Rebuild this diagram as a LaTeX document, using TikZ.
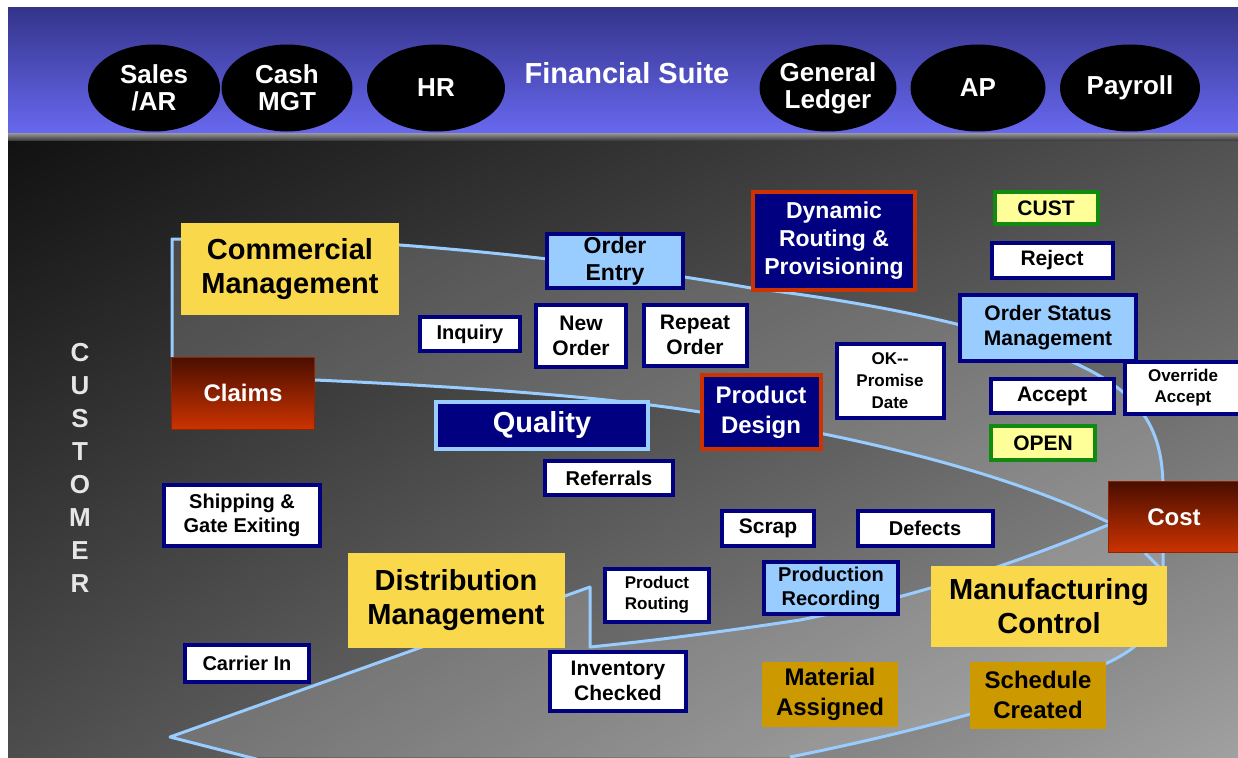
\documentclass[tikz,border=0pt]{standalone}
\usepackage{fontspec}
\setmainfont{Liberation Sans}
\usetikzlibrary{shapes.geometric,shadings}
\definecolor{navyb}{HTML}{000080}
\definecolor{skyb}{HTML}{99CCFF}
\definecolor{goldy}{HTML}{F9D84C}
\definecolor{ochre}{HTML}{CC9900}
\definecolor{paley}{HTML}{FFFF99}
\definecolor{greenb}{HTML}{108A10}
\definecolor{rust}{HTML}{CC3300}
\definecolor{rustdark}{HTML}{4A0E00}
\definecolor{bantop}{HTML}{34348A}
\definecolor{banbot}{HTML}{6868F0}
\definecolor{letterc}{HTML}{E6E6E6}
\newcommand\sz[2]{\fontsize{#1}{#2}\selectfont\bfseries}
\tikzset{
  box/.style={inner sep=0pt, align=center, line width=4pt, text=black},
  wbox/.style={box, fill=white, draw=navyb},
  bbox/.style={box, fill=skyb, draw=navyb},
  nbox/.style={box, fill=navyb, draw=rust, text=white},
  ybox/.style={box, fill=goldy},
  obox/.style={box, fill=ochre},
  tagbox/.style={box, fill=paley, draw=greenb},
  rbox/.style={box, top color=rustdark, bottom color=rust, draw=rust!70!black, line width=1pt, text=white},
  oval/.style={ellipse, fill=black, text=white, inner sep=0pt, align=center, font=\sz{26}{27}},
  ribbon/.style={skyb, line width=3pt, line join=round},
}
\begin{document}
\begin{tikzpicture}[x=1pt,y=-1pt]
\useasboundingbox (0,0) rectangle (1238,757);
\fill[white] (0,0) rectangle (1238,757);
% banner and backdrop
\shade[top color=bantop, bottom color=banbot] (8,8) rectangle (1238,133);
\shade[top color=black!40, bottom color=black!80] (8,133) rectangle (1238,141);
\shade[shading=bilinear interpolation, upper left=black!93, upper right=black!68, lower left=black!70, lower right=black!37] (8,141) rectangle (1238,757);
% the ribbon
\begin{scope}
\clip (8,141) rectangle (1238,757);
\fill[white, opacity=0.17] (172,357) -- (172,239) -- (400,245)
   .. controls (520,254) and (650,270) .. (751,288)
   .. controls (850,300) and (1000,325) .. (1085,368)
   .. controls (1150,400) and (1163,440) .. (1163,490) -- (1163,590)
   .. controls (1163,625) and (1140,648) .. (1107,663)
   .. controls (1040,700) and (900,735) .. (790,757)
   -- (248,757) -- (170,737) -- (590,587) -- (590,647)
   .. controls (640,642) and (700,635) .. (800,620)
   .. controls (900,600) and (1000,570) .. (1108,525) -- (1108,522)
   .. controls (1000,470) and (850,435) .. (700,412)
   .. controls (600,396) and (450,386) .. (315,380) -- (315,357) -- cycle;
\draw[ribbon] (172,357) -- (172,239) -- (400,245)
   .. controls (520,254) and (650,270) .. (751,288)
   .. controls (850,300) and (1000,325) .. (1085,368)
   .. controls (1150,400) and (1163,440) .. (1163,490) -- (1163,590)
   .. controls (1163,625) and (1140,648) .. (1107,663)
   .. controls (1040,700) and (900,735) .. (790,757);
\draw[ribbon] (315,380) .. controls (450,386) and (600,396) .. (700,412)
   .. controls (850,435) and (1000,470) .. (1108,522);
\draw[ribbon] (1108,525) .. controls (1000,570) and (900,600) .. (800,620)
   .. controls (700,635) and (640,642) .. (590,647) -- (590,587) -- (170,737) -- (260,760);
\draw[ribbon] (1145,553) -- (1160,568);
\end{scope}
% financial suite
\node[oval, minimum width=132, minimum height=87] (salesar) at (154,88) {Sales\\/AR};
\node[oval, minimum width=131, minimum height=87] (cashmgt) at (287,88) {Cash\\MGT};
\node[oval, minimum width=138, minimum height=87] (hr) at (436,88) {HR};
\node[text=white, font=\sz{29}{30}] (finsuite) at (627,73) {Financial Suite};
\node[oval, minimum width=133, minimum height=87] (genledger) at (828,88) {General\\Ledger};
\node[oval, minimum width=135, minimum height=87] (ap) at (978,88) {AP};
\node[oval, minimum width=140, minimum height=87] (payroll) at (1130,88) {Payroll};
\foreach \ch [count=\i from 0] in {C,U,S,T,O,M,E,R}
{
\node[text=letterc, font=\sz{26}{26}] (letter\i) at (80,{353+33*\i}) {\ch};
}
% boxes
\node[ybox, minimum width=218, minimum height=92, font=\sz{29}{34}] (comm) at (290,269) {Commercial\\Management};
\node[bbox, minimum width=136, minimum height=54, font=\sz{23}{27}] (orderentry) at (615,261) {Order\\Entry};
\node[nbox, minimum width=162, minimum height=98, font=\sz{23}{28}] (dynrouting) at (834,241) {Dynamic\\Routing \&\\Provisioning};
\node[tagbox, minimum width=103, minimum height=32, font=\sz{21}{24}] (custtag) at (1046,208) {CUST};
\node[wbox, minimum width=121, minimum height=35, font=\sz{21}{24}] (reject) at (1052,260) {Reject};
\node[bbox, minimum width=176, minimum height=66, font=\sz{21}{25}] (orderstatus) at (1048,328) {Order Status\\Management};
\node[wbox, minimum width=116, minimum height=52, font=\sz{17}{21}] (override) at (1183,388) {Override\\Accept};
\node[wbox, minimum width=123, minimum height=34, font=\sz{21}{24}] (accept) at (1052,396) {Accept};
\node[tagbox, minimum width=104, minimum height=34, font=\sz{21}{24}] (opentag) at (1043,443) {OPEN};
\node[wbox, minimum width=100, minimum height=34, font=\sz{20}{24}] (inquiry) at (470,334) {Inquiry};
\node[wbox, minimum width=90, minimum height=62, font=\sz{21}{25}] (neworder) at (581,336) {New\\Order};
\node[wbox, minimum width=103, minimum height=61, font=\sz{21}{25}] (repeatorder) at (695,335) {Repeat\\Order};
\node[wbox, minimum width=107, minimum height=74, font=\sz{17}{22}] (promise) at (890,381) {OK-{}-\\Promise\\Date};
\node[nbox, minimum width=119, minimum height=74, font=\sz{24}{30}] (proddesign) at (761,412) {Product\\Design};
\node[rbox, minimum width=143, minimum height=72, font=\sz{24}{28}] (claims) at (243,393) {Claims};
\node[nbox, draw=skyb, minimum width=212, minimum height=47, font=\sz{29}{34}] (quality) at (542,425) {Quality};
\node[wbox, minimum width=128, minimum height=34, font=\sz{20}{24}] (referrals) at (609,478) {Referrals};
\node[wbox, minimum width=156, minimum height=61, font=\sz{20}{24}] (shipping) at (242,515) {Shipping \&\\Gate Exiting};
\node[wbox, minimum width=92, minimum height=35, font=\sz{21}{24}] (scrap) at (768,528) {Scrap};
\node[wbox, minimum width=135, minimum height=35, font=\sz{20}{24}] (defects) at (925,528) {Defects};
\node[rbox, minimum width=131, minimum height=71, font=\sz{24}{28}] (cost) at (1174,517) {Cost};
\node[ybox, minimum width=217, minimum height=95, font=\sz{29}{34}] (distribution) at (456,600) {Distribution\\Management};
\node[wbox, minimum width=104, minimum height=53, font=\sz{17}{21}] (prodrouting) at (657,595) {Product\\Routing};
\node[bbox, minimum width=134, minimum height=52, font=\sz{20}{24}] (prodrecording) at (831,588) {Production\\Recording};
\node[ybox, minimum width=236, minimum height=81, font=\sz{29}{34}] (manufacturing) at (1049,606) {Manufacturing\\Control};
\node[wbox, minimum width=124, minimum height=37, font=\sz{20}{24}] (carrierin) at (247,663) {Carrier In};
\node[wbox, minimum width=136, minimum height=59, font=\sz{21}{25}] (inventory) at (618,681) {Inventory\\Checked};
\node[obox, minimum width=136, minimum height=65, font=\sz{24}{30}] (material) at (830,694) {Material\\Assigned};
\node[obox, minimum width=136, minimum height=67, font=\sz{24}{30}] (schedule) at (1038,695) {Schedule\\Created};
\end{tikzpicture}
\end{document}
